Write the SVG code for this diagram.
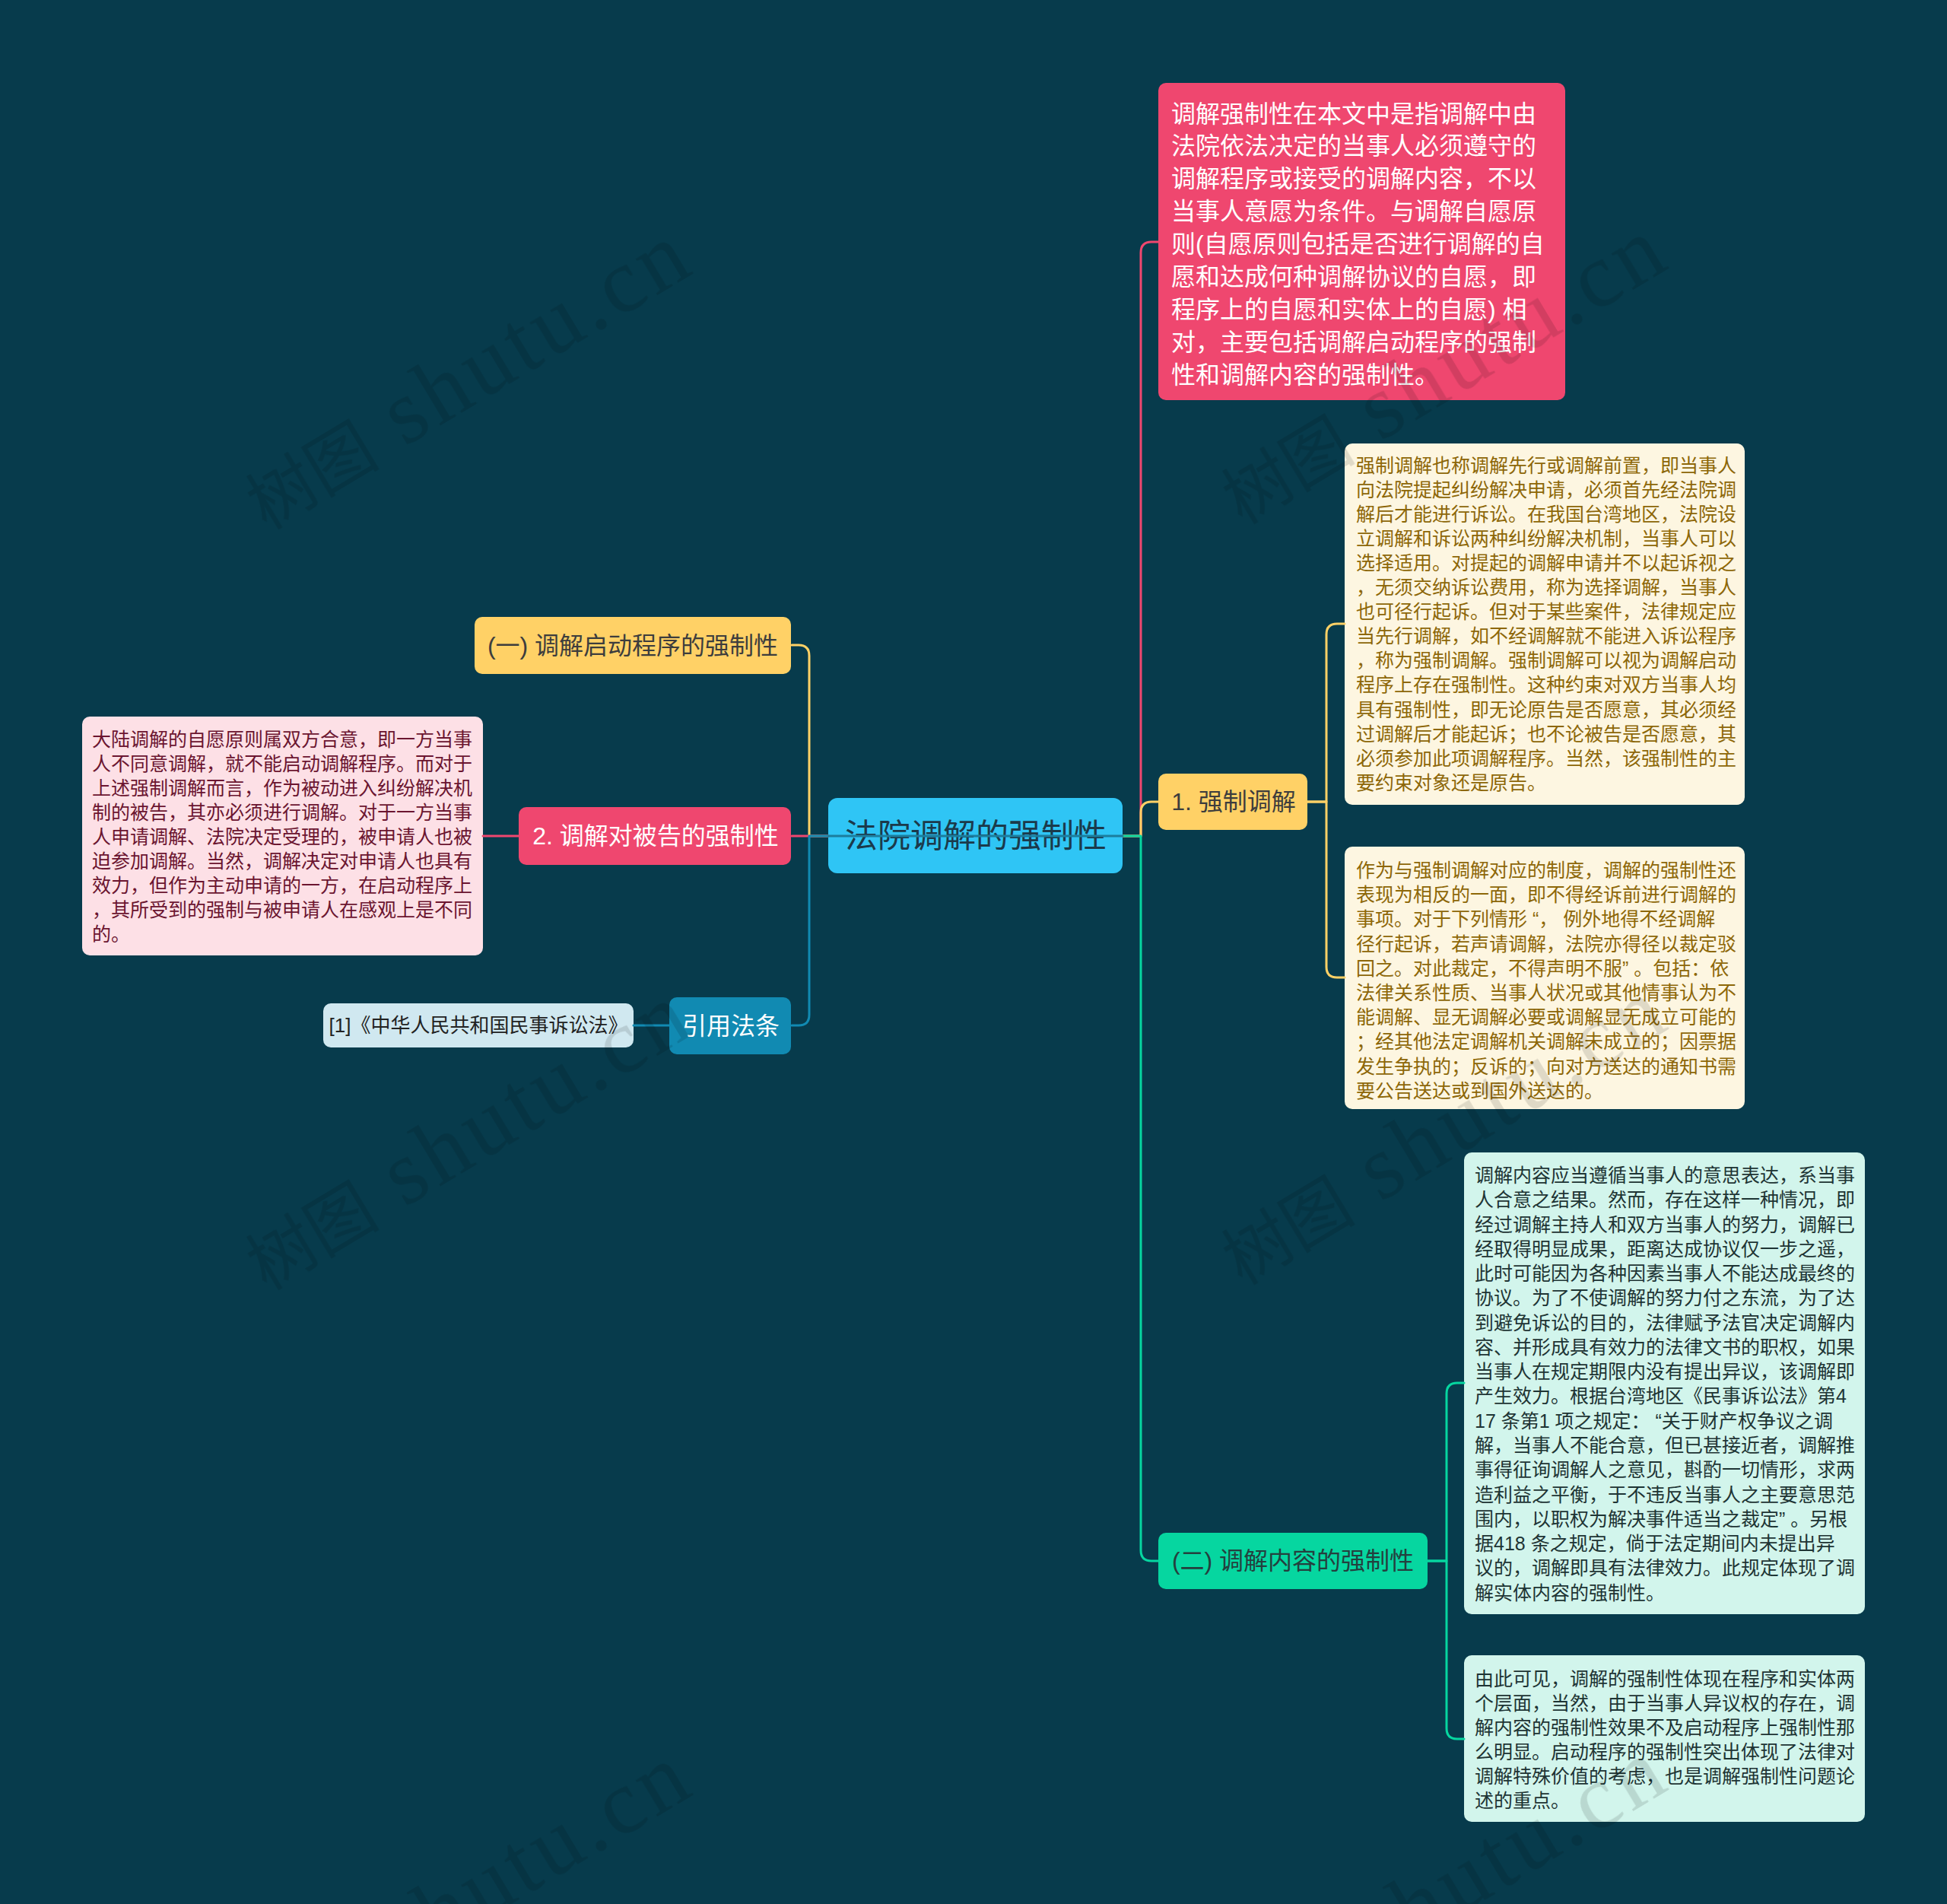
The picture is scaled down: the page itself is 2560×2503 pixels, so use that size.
<svg xmlns="http://www.w3.org/2000/svg" width="2560" height="2503" viewBox="0 0 2560 2503">
<defs>
<style>
text{font-family:"Liberation Sans","Noto Sans CJK SC",sans-serif;white-space:pre}
.conn path{fill:none;stroke-width:3;stroke-linecap:round;stroke-linejoin:round}
.box{font-size:25px}
.red{fill:#ef476f}.yel{fill:#ffd166}.grn{fill:#06d6a0}.blu{fill:#118ab2}
.nt{font-size:32px;text-anchor:middle}
.wm{fill:#000;opacity:0.12}
</style>
</defs>
<rect width="2560" height="2503" fill="#073b4c"/>

<g id="node-root">
<rect x="1089" y="1049" width="387" height="99" rx="12" fill="#2fc5f5"/>
<text x="1283" y="1114" font-size="43" text-anchor="middle" fill="#1b3a4b">法院调解的强制性</text>
</g>

<g id="node-qidong">
<rect class="yel" x="624" y="811" width="416" height="75" rx="10"/>
<text class="nt" x="832" y="860" fill="#3d3d3d">(一) 调解启动程序的强制性</text>
</g>

<g id="node-beigao">
<rect class="red" x="682" y="1061" width="358" height="76" rx="10"/>
<text class="nt" x="862" y="1110" fill="#ffffff">2. 调解对被告的强制性</text>
</g>

<g id="node-beigao-text">
<rect x="108" y="942" width="527" height="314" rx="10" fill="#fde0e6"/>
<text class="box" fill="#6b1530">
<tspan x="121" y="981">大陆调解的自愿原则属双方合意，即一方当事</tspan>
<tspan x="121" y="1013">人不同意调解，就不能启动调解程序。而对于</tspan>
<tspan x="121" y="1045">上述强制调解而言，作为被动进入纠纷解决机</tspan>
<tspan x="121" y="1077">制的被告，其亦必须进行调解。对于一方当事</tspan>
<tspan x="121" y="1109">人申请调解、法院决定受理的，被申请人也被</tspan>
<tspan x="121" y="1141">迫参加调解。当然，调解决定对申请人也具有</tspan>
<tspan x="121" y="1173">效力，但作为主动申请的一方，在启动程序上</tspan>
<tspan x="121" y="1205">，其所受到的强制与被申请人在感观上是不同</tspan>
<tspan x="121" y="1237">的。</tspan>
</text>
</g>

<g id="node-yinyong">
<rect class="blu" x="880" y="1311" width="160" height="75" rx="10"/>
<text class="nt" x="961" y="1360" fill="#ffffff">引用法条</text>
</g>

<g id="node-fatiao">
<rect x="425" y="1319" width="408" height="58" rx="10" fill="#d0e8f0"/>
<text x="629" y="1357" font-size="26" text-anchor="middle" fill="#222222">[1]《中华人民共和国民事诉讼法》</text>
</g>

<g id="node-definition">
<rect class="red" x="1523" y="109" width="535" height="417" rx="10"/>
<text font-size="32" fill="#ffffff">
<tspan x="1540" y="160.5">调解强制性在本文中是指调解中由</tspan>
<tspan x="1540" y="203.4">法院依法决定的当事人必须遵守的</tspan>
<tspan x="1540" y="246.3">调解程序或接受的调解内容，不以</tspan>
<tspan x="1540" y="289.2">当事人意愿为条件。与调解自愿原</tspan>
<tspan x="1540" y="332.1">则(自愿原则包括是否进行调解的自</tspan>
<tspan x="1540" y="375">愿和达成何种调解协议的自愿，即</tspan>
<tspan x="1540" y="417.9">程序上的自愿和实体上的自愿) 相</tspan>
<tspan x="1540" y="460.8">对，主要包括调解启动程序的强制</tspan>
<tspan x="1540" y="503.7">性和调解内容的强制性。</tspan>
</text>
</g>

<g id="node-qiangzhi">
<rect class="yel" x="1523" y="1017" width="196" height="74" rx="10"/>
<text class="nt" x="1622" y="1065" fill="#3d3d3d">1. 强制调解</text>
</g>

<g id="node-qiangzhi-text1">
<rect x="1768" y="583" width="526" height="475" rx="10" fill="#fdf6e1"/>
<text class="box" fill="#8d6708">
<tspan x="1783" y="621">强制调解也称调解先行或调解前置，即当事人</tspan>
<tspan x="1783" y="653">向法院提起纠纷解决申请，必须首先经法院调</tspan>
<tspan x="1783" y="685">解后才能进行诉讼。在我国台湾地区，法院设</tspan>
<tspan x="1783" y="717">立调解和诉讼两种纠纷解决机制，当事人可以</tspan>
<tspan x="1783" y="749">选择适用。对提起的调解申请并不以起诉视之</tspan>
<tspan x="1783" y="781">，无须交纳诉讼费用，称为选择调解，当事人</tspan>
<tspan x="1783" y="813">也可径行起诉。但对于某些案件，法律规定应</tspan>
<tspan x="1783" y="845">当先行调解，如不经调解就不能进入诉讼程序</tspan>
<tspan x="1783" y="877">，称为强制调解。强制调解可以视为调解启动</tspan>
<tspan x="1783" y="909">程序上存在强制性。这种约束对双方当事人均</tspan>
<tspan x="1783" y="942">具有强制性，即无论原告是否愿意，其必须经</tspan>
<tspan x="1783" y="974">过调解后才能起诉；也不论被告是否愿意，其</tspan>
<tspan x="1783" y="1006">必须参加此项调解程序。当然，该强制性的主</tspan>
<tspan x="1783" y="1038">要约束对象还是原告。</tspan>
</text>
</g>

<g id="node-qiangzhi-text2">
<rect x="1768" y="1113" width="526" height="345" rx="10" fill="#fdf6e1"/>
<text class="box" fill="#8d6708">
<tspan x="1783" y="1153">作为与强制调解对应的制度，调解的强制性还</tspan>
<tspan x="1783" y="1185">表现为相反的一面，即不得经诉前进行调解的</tspan>
<tspan x="1783" y="1217">事项。对于下列情形 “， 例外地得不经调解</tspan>
<tspan x="1783" y="1250">径行起诉，若声请调解，法院亦得径以裁定驳</tspan>
<tspan x="1783" y="1282">回之。对此裁定，不得声明不服” 。包括：依</tspan>
<tspan x="1783" y="1314">法律关系性质、当事人状况或其他情事认为不</tspan>
<tspan x="1783" y="1346">能调解、显无调解必要或调解显无成立可能的</tspan>
<tspan x="1783" y="1378">；经其他法定调解机关调解未成立的；因票据</tspan>
<tspan x="1783" y="1411">发生争执的；反诉的；向对方送达的通知书需</tspan>
<tspan x="1783" y="1443">要公告送达或到国外送达的。</tspan>
</text>
</g>

<g id="node-neirong">
<rect class="grn" x="1523" y="2015" width="354" height="74" rx="10"/>
<text class="nt" x="1700" y="2063" fill="#24403e">(二) 调解内容的强制性</text>
</g>

<g id="node-neirong-text1">
<rect x="1925" y="1515" width="527" height="607" rx="10" fill="#d2f5ec"/>
<text class="box" fill="#1e3434">
<tspan x="1939" y="1554">调解内容应当遵循当事人的意思表达，系当事</tspan>
<tspan x="1939" y="1586">人合意之结果。然而，存在这样一种情况，即</tspan>
<tspan x="1939" y="1619">经过调解主持人和双方当事人的努力，调解已</tspan>
<tspan x="1939" y="1651">经取得明显成果，距离达成协议仅一步之遥，</tspan>
<tspan x="1939" y="1683">此时可能因为各种因素当事人不能达成最终的</tspan>
<tspan x="1939" y="1715">协议。为了不使调解的努力付之东流，为了达</tspan>
<tspan x="1939" y="1748">到避免诉讼的目的，法律赋予法官决定调解内</tspan>
<tspan x="1939" y="1780">容、并形成具有效力的法律文书的职权，如果</tspan>
<tspan x="1939" y="1812">当事人在规定期限内没有提出异议，该调解即</tspan>
<tspan x="1939" y="1844">产生效力。根据台湾地区《民事诉讼法》第4</tspan>
<tspan x="1939" y="1877">17 条第1 项之规定： “关于财产权争议之调</tspan>
<tspan x="1939" y="1909">解，当事人不能合意，但已甚接近者，调解推</tspan>
<tspan x="1939" y="1941">事得征询调解人之意见，斟酌一切情形，求两</tspan>
<tspan x="1939" y="1974">造利益之平衡，于不违反当事人之主要意思范</tspan>
<tspan x="1939" y="2006">围内，以职权为解决事件适当之裁定” 。另根</tspan>
<tspan x="1939" y="2038">据418 条之规定，倘于法定期间内未提出异</tspan>
<tspan x="1939" y="2070">议的，调解即具有法律效力。此规定体现了调</tspan>
<tspan x="1939" y="2103">解实体内容的强制性。</tspan>
</text>
</g>

<g id="node-neirong-text2">
<rect x="1925" y="2176" width="527" height="219" rx="10" fill="#d2f5ec"/>
<text class="box" fill="#1e3434">
<tspan x="1939" y="2215.5">由此可见，调解的强制性体现在程序和实体两</tspan>
<tspan x="1939" y="2247.5">个层面，当然，由于当事人异议权的存在，调</tspan>
<tspan x="1939" y="2279.5">解内容的强制性效果不及启动程序上强制性那</tspan>
<tspan x="1939" y="2311.5">么明显。启动程序的强制性突出体现了法律对</tspan>
<tspan x="1939" y="2343.5">调解特殊价值的考虑，也是调解强制性问题论</tspan>
<tspan x="1939" y="2375.5">述的重点。</tspan>
</text>
</g>

<g id="connectors" class="conn">
<path stroke="#ffd166" d="M1041,848 H1050 Q1064,848 1064,862 V1099 H1089"/>
<path stroke="#ef476f" d="M1041,1099 H1089"/>
<path stroke="#118ab2" d="M1041,1348 H1050 Q1064,1348 1064,1334 V1099 H1089"/>
<path stroke="#ef476f" d="M635,1099 H682"/>
<path stroke="#118ab2" d="M833,1348 H880"/>
<path stroke="#ef476f" d="M1476,1099 H1500 V332 Q1500,318 1514,318 H1523"/>
<path stroke="#ffd166" d="M1476,1099 H1500 V1068 Q1500,1054 1514,1054 H1523"/>
<path stroke="#06d6a0" d="M1476,1099 H1500 V2038 Q1500,2052 1514,2052 H1523"/>
<path stroke="#ffd166" d="M1719,1054 H1744 V834 Q1744,820 1758,820 H1768"/>
<path stroke="#ffd166" d="M1719,1054 H1744 V1271 Q1744,1285 1758,1285 H1768"/>
<path stroke="#06d6a0" d="M1877,2052 H1902 V1832 Q1902,1818 1916,1818 H1925"/>
<path stroke="#06d6a0" d="M1877,2052 H1902 V2272 Q1902,2286 1916,2286 H1925"/>
<path stroke="#1c7d9d" d="M1089,1099 H1476"/>
</g>

<g id="watermarks" class="wm">
<text transform="rotate(-31 350 697)" x="350" y="697"><tspan font-size="88">树图</tspan><tspan font-size="120" font-family="Liberation Serif,serif" letter-spacing="6"> shutu.cn</tspan></text>
<text transform="rotate(-31 1633 690)" x="1633" y="690"><tspan font-size="88">树图</tspan><tspan font-size="120" font-family="Liberation Serif,serif" letter-spacing="6"> shutu.cn</tspan></text>
<text transform="rotate(-31 350 1697)" x="350" y="1697"><tspan font-size="88">树图</tspan><tspan font-size="120" font-family="Liberation Serif,serif" letter-spacing="6"> shutu.cn</tspan></text>
<text transform="rotate(-31 1633 1690)" x="1633" y="1690"><tspan font-size="88">树图</tspan><tspan font-size="120" font-family="Liberation Serif,serif" letter-spacing="6"> shutu.cn</tspan></text>
<text transform="rotate(-31 350 2697)" x="350" y="2697"><tspan font-size="88">树图</tspan><tspan font-size="120" font-family="Liberation Serif,serif" letter-spacing="6"> shutu.cn</tspan></text>
<text transform="rotate(-31 1633 2690)" x="1633" y="2690"><tspan font-size="88">树图</tspan><tspan font-size="120" font-family="Liberation Serif,serif" letter-spacing="6"> shutu.cn</tspan></text>
</g>
</svg>
